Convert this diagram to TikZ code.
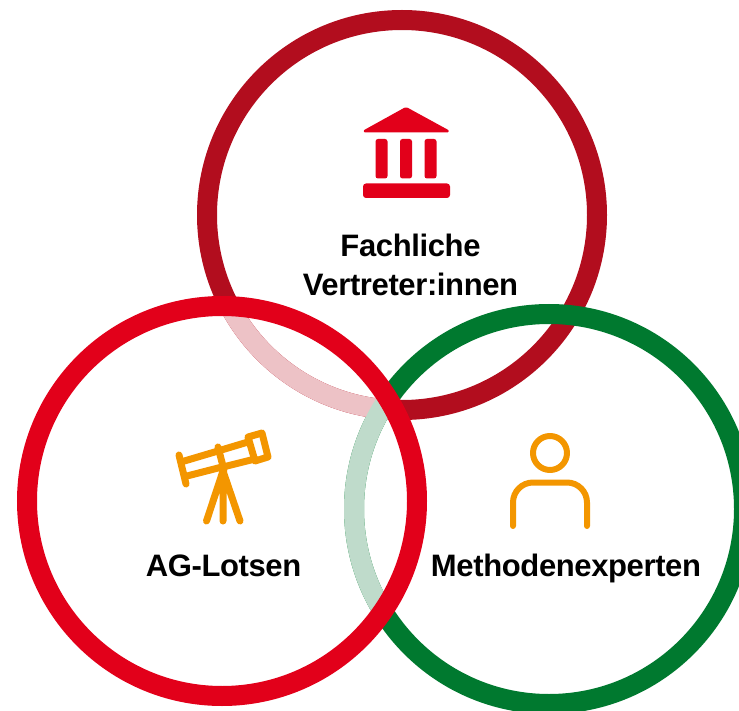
\documentclass[tikz,border=0pt]{standalone}
\usepackage{fontspec}
\setmainfont{Liberation Sans}[BoldFeatures={LetterSpace=-1.2}]
\definecolor{dkred}{HTML}{B20D1E}
\definecolor{brred}{HTML}{E2001A}
\definecolor{dkgreen}{HTML}{00792F}
\definecolor{plred}{HTML}{EDC2C6}
\definecolor{plgreen}{HTML}{BFDBCB}
\definecolor{ora}{HTML}{F39600}
\tikzset{x=1pt,y=-1pt,
 ring/.style={line width=20pt},
 lab/.style={font=\bfseries\fontsize{31}{39}\selectfont,align=center,text=black,inner sep=0pt},
 icon/.style={draw=ora,line width=7pt,line cap=round,line join=round},
 iconthin/.style={draw=ora,line width=6pt,line cap=round,line join=round},
 temple/.style={fill=brred,draw=brred,line width=2pt,line join=round,rounded corners=1.5pt}}
\begin{document}
\begin{tikzpicture}
\useasboundingbox (0,0) rectangle (739,711);
\clip (0,0) rectangle (739,711);
\coordinate (T) at (402,215);
\coordinate (R) at (222,501);
\coordinate (G) at (549,509);
% top ring and green ring
\draw[ring,dkred] (T) circle[radius=195];
\draw[ring,dkgreen] (G) circle[radius=195];
% pale parts inside the red ring
\begin{scope}
\clip (R) circle[radius=195];
\draw[ring,plred] (T) circle[radius=195];
\draw[ring,plgreen] (G) circle[radius=195];
\end{scope}
\draw[ring,brred] (R) circle[radius=195];
% temple
\draw[temple] (406,108) -- (449,131.5) -- (363.5,131.5) -- cycle;
\fill[brred,rounded corners=2.5pt] (375.5,139) rectangle (387.5,178.5);
\fill[brred,rounded corners=2.5pt] (400,139) rectangle (412,178.5);
\fill[brred,rounded corners=2.5pt] (424.5,139) rectangle (436.5,178.5);
\fill[brred,rounded corners=3pt] (363,183.5) rectangle (450,198);
% telescope
\draw[icon] (179,455) -- (186,484);
\draw[icon] (181,462) -- (218,451) (187,476) -- (222,467);
\draw[icon] (218,447) -- (224,470);
\draw[icon] (218,451) -- (248,442) (223,467) -- (255,459);
\draw[icon] (248,437) -- (262,433) -- (268,457) -- (255,461) -- cycle;
\draw[icon] (223,471) -- (206.5,521) (223,471) -- (223,521) (223,471) -- (240,521);
% person
\draw[iconthin] (550,453) circle[radius=17];
\draw[iconthin,rounded corners=20pt] (513,526) -- (513,482.5) -- (587,482.5) -- (587,526);
% labels
\node[lab] (a) at (410.5,265) {Fachliche\\Vertreter:innen};
\node[lab] (b) at (223.5,566) {AG-Lotsen};
\node[lab] (c) at (566,568.5) {Methodenexperten};
\end{tikzpicture}
\end{document}
